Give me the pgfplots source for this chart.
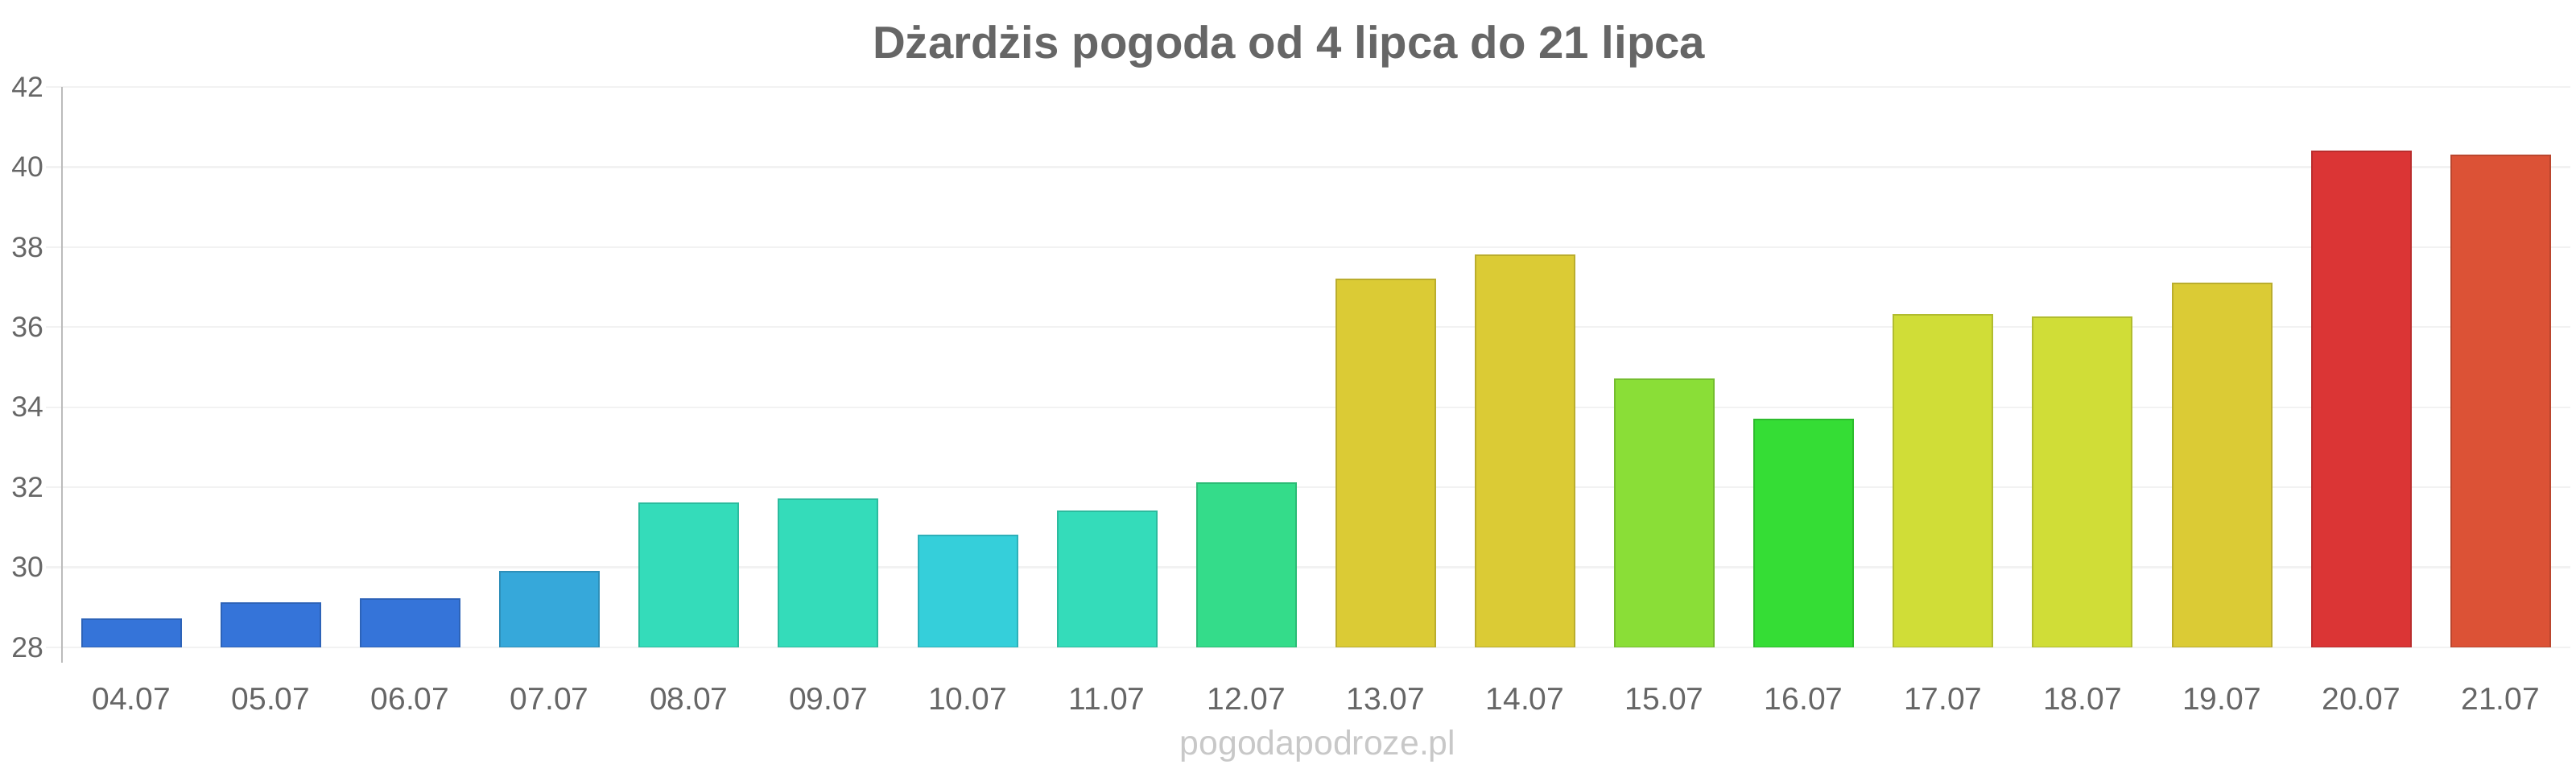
\documentclass[border=0pt]{standalone}
\usepackage{fontspec}
\setmainfont{Liberation Sans}
\usepackage{pgfplots}
\pgfplotsset{compat=1.18}
\definecolor{txt}{HTML}{666666}
\definecolor{grd}{HTML}{F2F2F2}
\definecolor{axc}{HTML}{BBBBBB}
\definecolor{wm}{HTML}{C8C8C8}
\definecolor{cA}{HTML}{3574D9}
\definecolor{cB}{HTML}{36A8DA}
\definecolor{cC}{HTML}{34DCBA}
\definecolor{cD}{HTML}{35CFDA}
\definecolor{cE}{HTML}{34DC8A}
\definecolor{cF}{HTML}{DBCB35}
\definecolor{cG}{HTML}{8ADE37}
\definecolor{cH}{HTML}{35DD35}
\definecolor{cI}{HTML}{D0DD37}
\definecolor{cJ}{HTML}{DB3535}
\definecolor{cK}{HTML}{DC5236}
\pgfplotsset{mybar/.style={ybar, bar width=30.75pt, bar shift=0pt, fill=#1, draw=#1!85!black, line width=0.5pt}}
\begin{document}
\begin{tikzpicture}[x=1pt,y=1pt]
\path[use as bounding box] (0,0) rectangle (800,240);
\begin{axis}[
  at={(19.2pt,39pt)}, anchor=south west,
  scale only axis, width=779pt, height=174pt,
  xmin=-0.5, xmax=17.5, ymin=28, ymax=42,
  ytick={28,30,...,42},
  xtick={0,...,17},
  xticklabels={04.07,05.07,06.07,07.07,08.07,09.07,10.07,11.07,12.07,13.07,14.07,15.07,16.07,17.07,18.07,19.07,20.07,21.07},
  ymajorgrids, grid style={grd, line width=0.6pt},
  axis lines*=left,
  x axis line style={draw=none},
  y axis line style={axc, line width=0.5pt, shorten <=-4.8pt},
  xtick style={draw=none},
  ytick style={grd, line width=0.6pt},
  tick align=outside, major tick length=5pt,
  /pgf/number format/assume math mode=true,
  yticklabel style={text=txt, font=\fontsize{8.9}{10}\selectfont, anchor=east, inner sep=0pt, xshift=-0.5pt},
  xticklabel style={text=txt, font=\fontsize{9.75}{11}\selectfont, anchor=base, inner sep=0pt, yshift=-14.5pt},
  clip=true,
]
\addplot[mybar=cA] coordinates {(0,28.7)};
\addplot[mybar=cA] coordinates {(1,29.1)};
\addplot[mybar=cA] coordinates {(2,29.2)};
\addplot[mybar=cB] coordinates {(3,29.9)};
\addplot[mybar=cC] coordinates {(4,31.6)};
\addplot[mybar=cC] coordinates {(5,31.7)};
\addplot[mybar=cD] coordinates {(6,30.8)};
\addplot[mybar=cC] coordinates {(7,31.4)};
\addplot[mybar=cE] coordinates {(8,32.1)};
\addplot[mybar=cF] coordinates {(9,37.2)};
\addplot[mybar=cF] coordinates {(10,37.8)};
\addplot[mybar=cG] coordinates {(11,34.7)};
\addplot[mybar=cH] coordinates {(12,33.7)};
\addplot[mybar=cI] coordinates {(13,36.3)};
\addplot[mybar=cI] coordinates {(14,36.25)};
\addplot[mybar=cF] coordinates {(15,37.1)};
\addplot[mybar=cJ] coordinates {(16,40.4)};
\addplot[mybar=cK] coordinates {(17,40.3)};
\end{axis}
\node[anchor=base, text=txt, font=\bfseries\fontsize{14.1}{16}\selectfont] at (400.3,221.75) {Dżardżis pogoda od 4 lipca do 21 lipca};
\node[anchor=base, text=wm, font=\fontsize{10.7}{13}\selectfont] at (409.25,5.5) {pogodapodroze.pl};
\end{tikzpicture}
\end{document}
